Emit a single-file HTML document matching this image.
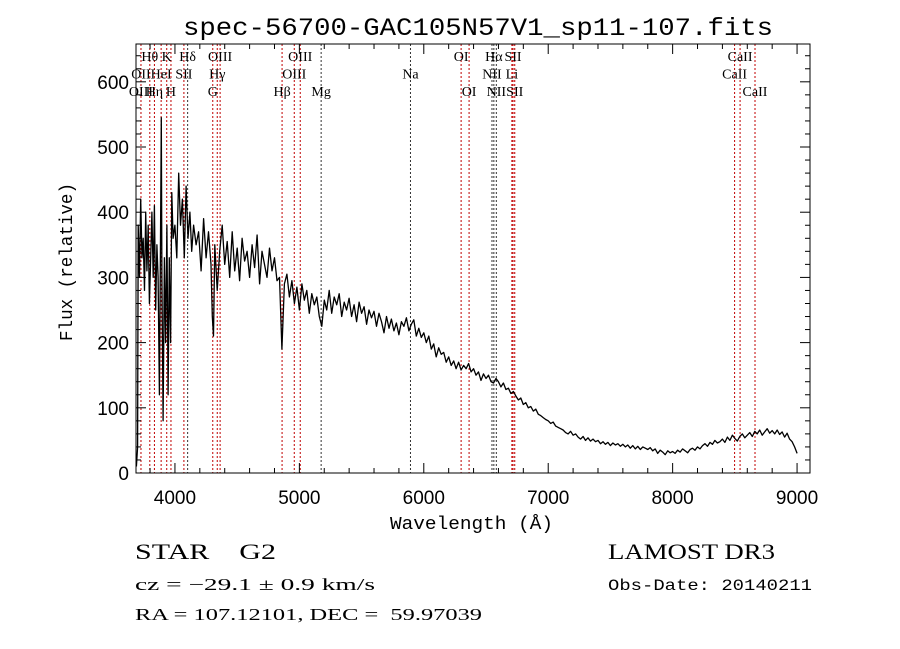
<!DOCTYPE html>
<html><head><meta charset="utf-8"><style>
body{margin:0;background:#fff;}
svg{display:block;}
.t{font-family:"Liberation Serif",serif;}
.m{font-family:"Liberation Mono",monospace;}
.s{font-family:"Liberation Sans",sans-serif;}
</style></head><body>
<svg id="c" width="900" height="649" viewBox="0 0 900 649" xmlns="http://www.w3.org/2000/svg">
<rect width="900" height="649" fill="#fff"/>
<text x="183" y="35" textLength="590" lengthAdjust="spacingAndGlyphs" class="m" font-size="25">spec-56700-GAC105N57V1_sp11-107.fits</text>
<g id="lines"></g>
<g id="labels"></g>
<g id="spec"></g>
<rect x="136" y="44" width="674" height="429" fill="none" stroke="#000" stroke-width="1"/>
<g id="axes"></g>
<text x="390" y="529" textLength="163" lengthAdjust="spacingAndGlyphs" class="m" font-size="18">Wavelength (Å)</text>
<text transform="translate(72,341) rotate(-90)" textLength="158" lengthAdjust="spacingAndGlyphs" class="m" font-size="18">Flux (relative)</text>
<text x="135" y="559" textLength="141" lengthAdjust="spacingAndGlyphs" class="t" font-size="22" xml:space="preserve">STAR    G2</text>
<text x="135" y="590" textLength="240" lengthAdjust="spacingAndGlyphs" class="t" font-size="17">cz = −29.1 ± 0.9 km/s</text>
<text x="135" y="620" textLength="347" lengthAdjust="spacingAndGlyphs" class="t" font-size="17" xml:space="preserve">RA = 107.12101, DEC =  59.97039</text>
<text x="608" y="559" textLength="167" lengthAdjust="spacingAndGlyphs" class="t" font-size="22">LAMOST DR3</text>
<text x="608" y="590" textLength="204" lengthAdjust="spacingAndGlyphs" class="m" font-size="16">Obs-Date: 20140211</text>
</svg>
<script>
const wave=[3690,3700,3705,3715,3725,3735,3745,3755,3765,3775,3785,3795,3805,3815,3825,3835,3845,3855,3865,3875,3885,3890,3895,3905,3915,3925,3935,3945,3955,3965,3975,3985,4000,4015,4030,4045,4060,4075,4090,4105,4120,4135,4150,4170,4190,4210,4230,4250,4270,4290,4300,4310,4320,4340,4360,4380,
4400,4420,4440,4460,4480,4500,4520,4540,4560,4580,4600,4620,4640,4660,4680,4700,4720,4740,4760,4780,4800,4820,4840,4860,4880,4900,4920,4940,4960,4980,5000,5020,5040,5060,5080,5100,5120,5140,5160,5180,5200,5220,5240,5260,5280,5300,5320,5340,5360,5380,5400,5420,5440,5460,5480,5500,5520,5540,5560,5580,5600,5620,5640,5660,5680,5700,5720,5740,5760,5780,5800,5820,5840,5860,5880,5900,5920,5940,5960,5980,6000,6020,6040,6060,6080,6100,6120,6140,6160,6180,6200,6220,6240,6260,6280,6300,6320,6340,6360,6380,6400,6420,6440,6460,6480,6500,6520,6540,6560,6580,6600,6620,6640,6660,6680,6700,6720,6740,6760,6780,6800,6820,6840,6860,6880,6900,6920,6940,6960,6980,7000,7020,7040,7060,7080,7100,7120,7140,7160,7180,7200,7220,7240,7260,7280,7300,7320,7340,7360,7380,7400,7420,7440,7460,7480,7500,7520,7540,7560,7580,7600,7620,7640,7660,7680,7700,7720,7740,7760,7780,7800,7820,7840,7860,7880,7900,7920,7940,7960,7980,8000,8020,8040,8060,8080,8100,8120,8140,8160,8180,8200,8220,8240,8260,8280,8300,8320,8340,8360,8380,8400,8420,8440,8460,8480,8500,8520,8540,8560,8580,8600,8620,8640,8660,8680,8700,8720,8740,8760,8780,8800,8820,8840,8860,8880,8900,8920,8940,8960,8980,9000];
const flux=[10,40,380,300,420,330,360,280,400,310,380,260,330,400,300,410,250,350,300,120,380,545,300,80,330,200,380,120,330,200,430,360,380,330,460,380,420,330,440,360,400,340,380,350,370,310,390,330,370,320,240,210,350,280,340,380,
320,355,300,370,310,345,295,360,325,340,
300,350,315,365,290,340,320,300,345,310,
330,295,300,190,290,305,270,295,260,285,
250,290,265,280,245,275,258,270,240,225,
265,250,280,245,270,258,275,240,262,250,
268,240,258,232,262,245,255,228,250,238,
248,225,245,232,215,240,222,236,218,230,
212,232,225,238,218,228,235,210,222,208,
215,200,210,190,198,178,192,182,185,170,
178,165,172,160,170,158,165,160,168,155,
160,150,155,142,152,145,150,140,138,145,
140,132,138,128,130,122,125,118,112,115,
105,108,100,102,95,98,90,88,85,82,
80,76,78,72,70,68,66,62,60,64,
58,60,55,52,56,50,54,49,52,48,
50,45,48,44,47,42,46,43,45,41,
44,40,43,38,42,37,41,36,40,38,
36,39,34,37,30,35,32,28,34,31,
33,30,35,32,37,34,31,36,38,35,
40,37,42,45,41,47,44,50,46,48,
52,47,55,50,58,53,49,56,60,54,
58,62,56,64,60,66,58,63,68,61,
65,60,66,59,63,55,61,52,48,40,
30];
const lineWave=[3727,3798,3835,3889,3934,3968,4072,4102,4304,4340,4363,4861,4959,5007,5175,5893,6300,6364,6548,6563,6583,6708,6717,6731,8498,8542,8662];
const lineColor=["r","r","r","r","r","r","r","k","r","r","r","r","r","r","k","k","r","r","k","k","k","r","r","r","r","r","r"];
const labelText=["Hθ","K","Hδ","OIII","OIII","OI","Hα","SII","CaII","OII","HeI","SII","Hγ","OIII","Na","NII","Li","CaII","OIII","Hη","H","G","Hβ","Mg","OI","NII","SII","CaII"];
const labelWave=[3798,3934,4102,4363,5007,6300,6563,6717,8542,3727,3889,4072,4340,4959,5893,6548,6708,8498,3727,3835,3968,4304,4861,5175,6364,6583,6731,8662];
const labelRow=[0,0,0,0,0,0,0,0,0,1,1,1,1,1,1,1,1,1,2,2,2,2,2,2,2,2,2,2];
const xTicks=[4000,5000,6000,7000,8000,9000];
const yTicks=[0,100,200,300,400,500,600];
const X0=136,X1=810,Y0=473,Y1=44,WMIN=3687,WMAX=9104,FMIN=0,FMAX=658;
const NS="http://www.w3.org/2000/svg";
function xs(w){return X0+(w-WMIN)/(WMAX-WMIN)*(X1-X0);}
function ys(f){return Y0-(f-FMIN)/(FMAX-FMIN)*(Y0-Y1);}
function mk(t,a,p){const e=document.createElementNS(NS,t);for(const k in a)e.setAttribute(k,a[k]);p.appendChild(e);return e;}
const gl=document.getElementById('lines');
lineWave.forEach((w,i)=>{const e=mk('line',{x1:xs(w),x2:xs(w),y1:Y1,y2:Y0,stroke:lineColor[i]=='r'?'#c00000':'#333','stroke-width':1,'stroke-dasharray':'2,2'},gl);

});
const glb=document.getElementById('labels');
labelText.forEach((t,i)=>{const e=mk('text',{x:xs(labelWave[i]),y:61+labelRow[i]*17.5,'text-anchor':'middle','font-size':14,'class':'t'},glb);e.textContent=t;

});
let d='';wave.forEach((w,i)=>{d+=(i?'L':'M')+xs(w).toFixed(1)+','+ys(flux[i]).toFixed(1);});
const p=mk('path',{d:d,fill:'none',stroke:'#000','stroke-width':1.3,'stroke-linejoin':'round'},document.getElementById('spec'));


const ga=document.getElementById('axes');
for(let w=3800;w<=9100;w+=200){const maj=w%1000==0;const L=maj?10:5;
mk('line',{x1:xs(w),x2:xs(w),y1:Y0,y2:Y0-L,stroke:'#000'},ga);mk('line',{x1:xs(w),x2:xs(w),y1:Y1,y2:Y1+L,stroke:'#000'},ga);}
for(let f=0;f<=650;f+=20){const maj=f%100==0;const L=maj?10:5;
mk('line',{x1:X0,x2:X0+L,y1:ys(f),y2:ys(f),stroke:'#000'},ga);mk('line',{x1:X1,x2:X1-L,y1:ys(f),y2:ys(f),stroke:'#000'},ga);}
xTicks.forEach(w=>{const e=mk('text',{x:xs(w),y:504,'text-anchor':'middle','font-size':19,'class':'s'},ga);e.textContent=w;

});
yTicks.forEach(f=>{const e=mk('text',{x:129,y:ys(f)+7,'text-anchor':'end','font-size':19,'class':'s'},ga);e.textContent=f;

});
</script>
</body></html>
